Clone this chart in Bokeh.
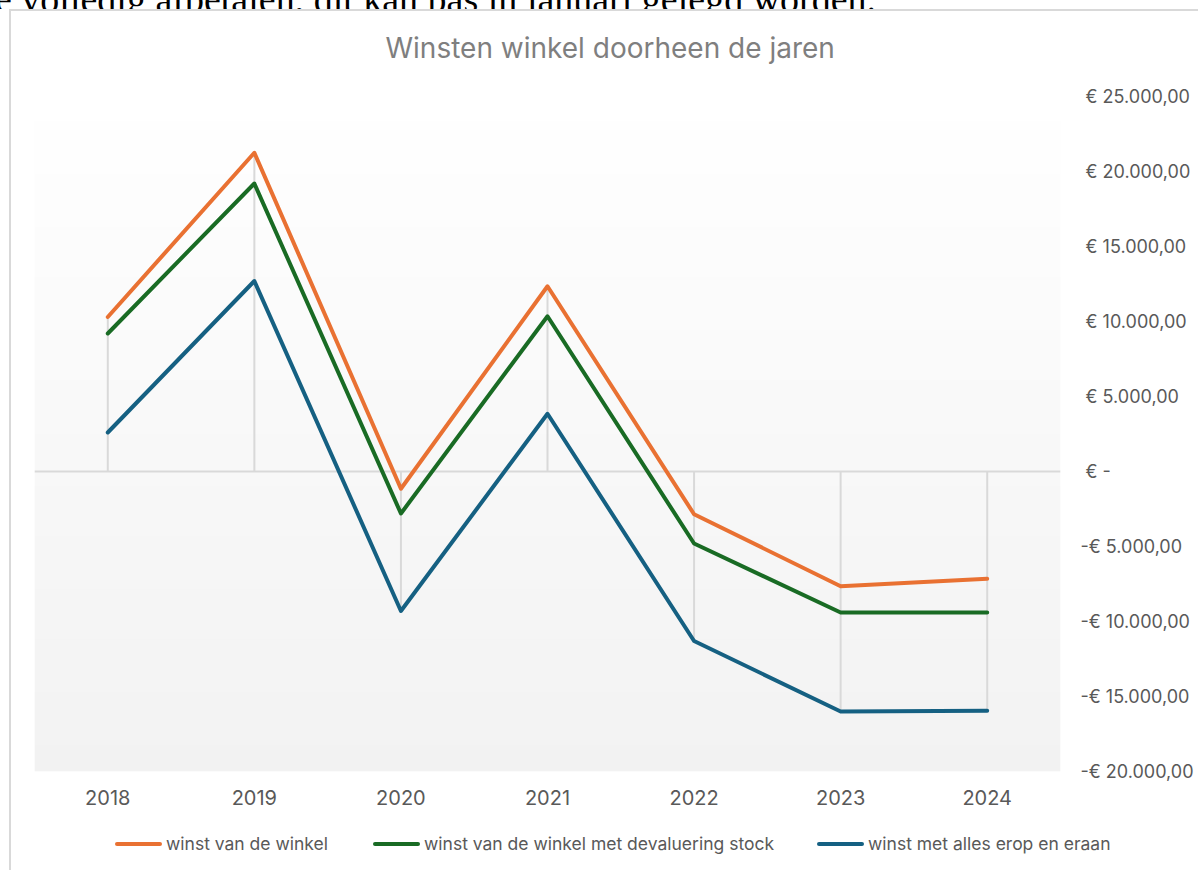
import numpy as np
from bokeh.plotting import figure
from bokeh.layouts import column
from bokeh.models import Range1d, FixedTicker, Span, Div
from bokeh.embed import file_html
from bokeh.resources import INLINE

# ---- data ----
years = [2018, 2019, 2020, 2021, 2022, 2023, 2024]
winst_winkel = [10300, 21250, -1150, 12350, -2850, -7650, -7150]
winst_devaluering = [9200, 19200, -2800, 10350, -4800, -9400, -9400]
winst_alles = [2600, 12700, -9300, 3850, -11300, -16000, -15950]
series_names = [
    "winst van de winkel",
    "winst van de winkel met devaluering stock",
    "winst met alles erop en eraan",
]
series_colors = ["#E97132", "#196B24", "#156082"]
y_ticks = [-20000, -15000, -10000, -5000, 0, 5000, 10000, 15000, 20000, 25000]
y_tick_labels = [
    "-€ 20.000,00", "-€ 15.000,00", "-€ 10.000,00", "-€ 5.000,00", "\u00a0€ -",
    "\u00a0€ 5.000,00", "\u00a0€ 10.000,00", "\u00a0€ 15.000,00", "\u00a0€ 20.000,00", "\u00a0€ 25.000,00",
]
title_text = "Winsten winkel doorheen de jaren"
top_text = "e volledig afbetalen, dit kan pas in januari gelegd worden."
y_min, y_max = -20000, 25000
y_frame_top = 26067   # a little head-room above the top tick for the title

FONT = "Inter"
GRAY = "#595959"
BORDER = "2px solid #d9d9d9"

# cropped line of document text above the chart
top = Div(
    text=('<div style="margin-left:-5px;margin-top:-34px;'
          'font-family:\'Liberation Serif\',serif;font-size:38px;line-height:38px;'
          'white-space:nowrap;color:#000">' + top_text + '</div>'),
    width=1200, height=9, margin=0,
    styles={"overflow": "hidden"},
)

p = figure(
    width=1189, height=809,
    x_range=Range1d(years[0] - 0.5, years[-1] + 0.5),
    y_range=Range1d(y_min, y_frame_top),
    output_backend="svg", toolbar_location=None,
    y_axis_location="right",
    min_border_left=23, min_border_right=140, min_border_top=69, min_border_bottom=49,
    styles={"border-top": BORDER, "border-left": BORDER, "margin-left": "9px"},
)
p.outline_line_color = None
p.xgrid.visible = False
p.ygrid.visible = False
p.background_fill_color = "white"
p.border_fill_color = "white"

# title
p.title.text = title_text
p.title.align = "left"
p.title.offset = 351
p.title.text_font = FONT
p.title.text_font_size = "28px"
p.title.text_font_style = "normal"
p.title.text_color = "#7f7f7f"
p.title.standoff = 32

# gradient plot-area background (white at top -> #f2f2f2 at bottom)
N = 256
t = np.linspace(0.0, 1.0, N)
g = np.round(242 + 13 * t).astype(np.uint8)
img = np.empty((N, 1), dtype=np.uint32)
view = img.view(dtype=np.uint8).reshape((N, 1, 4))
view[:, 0, 0] = g
view[:, 0, 1] = g
view[:, 0, 2] = g
view[:, 0, 3] = 255
bg = p.image_rgba(image=[img], x=years[0] - 0.5, y=y_min, dw=len(years), dh=y_max - y_min)
bg.level = "image"

# zero line
p.add_layout(Span(location=0, dimension="width", line_color="#d9d9d9", line_width=2, level="underlay"))

# drop lines
all_series = [winst_winkel, winst_devaluering, winst_alles]
ext = []
for i in range(len(years)):
    vals = [s[i] for s in all_series]
    ext.append(max(vals) if max(vals) > 0 else min(vals))
p.segment(x0=years, y0=[0] * len(years), x1=years, y1=ext, line_color="#d9d9d9", line_width=2)

# series
for vals, col in zip(all_series, series_colors):
    p.line(years, vals, line_color=col, line_width=4, line_join="round", line_cap="round")

# axes
p.xaxis.ticker = FixedTicker(ticks=years)
p.xaxis.major_label_overrides = {y: str(y) for y in years}
p.xaxis.axis_line_color = None
p.xaxis.major_tick_line_color = None
p.xaxis.minor_tick_line_color = None
p.xaxis.major_label_standoff = 12
p.xaxis.major_label_text_font = FONT
p.xaxis.major_label_text_font_size = "20px"
p.xaxis.major_label_text_color = GRAY

p.yaxis.ticker = FixedTicker(ticks=y_ticks)
p.yaxis.major_label_overrides = dict(zip(y_ticks, y_tick_labels))
p.yaxis.axis_line_color = None
p.yaxis.major_tick_line_color = None
p.yaxis.minor_tick_line_color = None
p.yaxis.major_label_standoff = 14
p.yaxis.major_label_text_font = FONT
p.yaxis.major_label_text_font_size = "18px"
p.yaxis.major_label_text_color = GRAY

# legend strip at the bottom of the chart area
icon_left = [104, 362, 806]
parts = ['<div style="position:relative;width:1187px;height:52px;'
         'font-family:Inter,sans-serif;font-size:17.5px;color:%s">' % GRAY]
for name, col, x in zip(series_names, series_colors, icon_left):
    parts.append('<div style="position:absolute;left:%dpx;top:24px;width:47px;height:4px;'
                 'border-radius:2px;background:%s"></div>' % (x, col))
    parts.append('<div style="position:absolute;left:%dpx;top:15px;line-height:22px;'
                 'white-space:nowrap">%s</div>' % (x + 51, name))
parts.append('</div>')
leg = Div(
    text="".join(parts),
    width=1189, height=52, margin=0,
    styles={"border-left": BORDER, "margin-left": "9px", "overflow": "hidden"},
)

layout = column(top, p, leg, spacing=0)
open("out.html", "w").write(file_html(layout, INLINE))
